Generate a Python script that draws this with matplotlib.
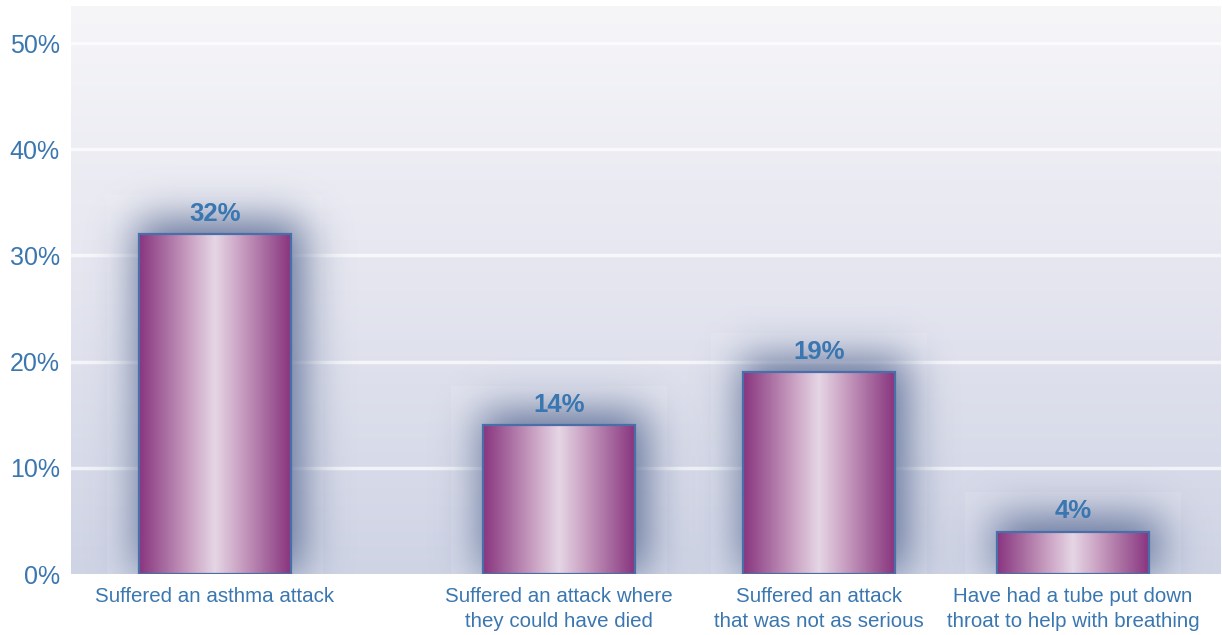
import numpy as np
import matplotlib.pyplot as plt
from matplotlib.colors import LinearSegmentedColormap
from matplotlib.patches import Rectangle

plt.rcParams['font.family'] = ['Liberation Sans', 'DejaVu Sans']

# data
categories = ["Suffered an asthma attack",
              "Suffered an attack where\nthey could have died",
              "Suffered an attack\nthat was not as serious",
              "Have had a tube put down\nthroat to help with breathing"]
values = [32, 14, 19, 4]
yticks = [0, 10, 20, 30, 40, 50]

# layout (x axis in pixel-like units, 0..1150)
bar_left = [68, 412, 672, 926]
bar_w = 152
ymax = 53.5
px_per_unit = 568 / ymax

blue = '#3a76b0'
bar_cmap = LinearSegmentedColormap.from_list('bar', [
    (0.0, '#893580'), (0.18, '#aa6fa2'), (0.35, '#cda6c6'), (0.5, '#e5d6e5'),
    (0.65, '#cda6c6'), (0.82, '#aa6fa2'), (1.0, '#893580')])
bg_cmap = LinearSegmentedColormap.from_list('bg', ['#cfd4e5', '#e4e5ef', '#f6f6f9'])


def blur(a, sigma):
    r = int(3 * sigma)
    k = np.exp(-0.5 * (np.arange(-r, r + 1) / sigma) ** 2)
    k /= k.sum()
    a = np.apply_along_axis(lambda m: np.convolve(m, k, mode='same'), 0, a)
    return np.apply_along_axis(lambda m: np.convolve(m, k, mode='same'), 1, a)


fig = plt.figure(figsize=(12.22, 6.35), dpi=100)
ax = fig.add_axes([71 / 1222, 61 / 635, 1150 / 1222, 568 / 635])
ax.set_xlim(0, 1150)
ax.set_ylim(0, ymax)

# background gradient
grad = np.linspace(0, 1, 256).reshape(-1, 1)
ax.imshow(grad, cmap=bg_cmap, origin='lower', aspect='auto',
          extent=(0, 1150, 0, ymax), zorder=0)

for t in yticks[1:]:
    ax.axhline(t, color='white', lw=2.5, alpha=0.7, zorder=1)

for i, v in enumerate(values):
    x0 = bar_left[i]
    hpx = int(v * px_per_unit)
    pad = 100
    # faint lighter panel behind each bar
    ax.add_patch(Rectangle((x0 - 32, 0), bar_w + 64, v + 3.7, color='white',
                           alpha=0.12, lw=0, zorder=1))
    # blurred glow
    mask = np.zeros((hpx + 2 * pad, bar_w + 2 * pad))
    mask[pad:pad + hpx + 14, pad - 2:pad + bar_w + 12] = 1
    a = blur(mask, 21)
    rgba = np.zeros(mask.shape + (4,))
    rgba[..., 0], rgba[..., 1], rgba[..., 2] = 0.44, 0.50, 0.64
    rgba[..., 3] = np.clip(1.15 * a, 0, 0.95)
    ax.imshow(rgba, origin='lower', aspect='auto', interpolation='bilinear',
              extent=(x0 - pad, x0 + bar_w + pad, -pad / px_per_unit,
                      (hpx + pad) / px_per_unit), zorder=2)
    # gradient bar
    ax.imshow(np.linspace(0, 1, 256).reshape(1, -1), cmap=bar_cmap,
              aspect='auto', extent=(x0, x0 + bar_w, 0, v), zorder=3)
    ax.add_patch(Rectangle((x0, 0), bar_w, v, fill=False, ec='#4a6fa8',
                           lw=1.6, zorder=4))
    ax.text(x0 + bar_w / 2, v + 0.8, f"{v}%", ha='center', va='bottom',
            color=blue, fontsize=18.5, fontweight='bold', zorder=5)
    ax.text(x0 + bar_w / 2, -1.2, categories[i], ha='center', va='top',
            color=blue, fontsize=14.8, linespacing=1.45, zorder=5, clip_on=False)

ax.set_ylim(0, ymax)
ax.set_xlim(0, 1150)
ax.set_yticks(yticks)
ax.set_yticklabels([f"{t}%" for t in yticks], color=blue, fontsize=18)
ax.set_xticks([])
ax.tick_params(axis='y', length=0, pad=8)
for s in ax.spines.values():
    s.set_visible(False)

fig.savefig("out.png", dpi=100)
